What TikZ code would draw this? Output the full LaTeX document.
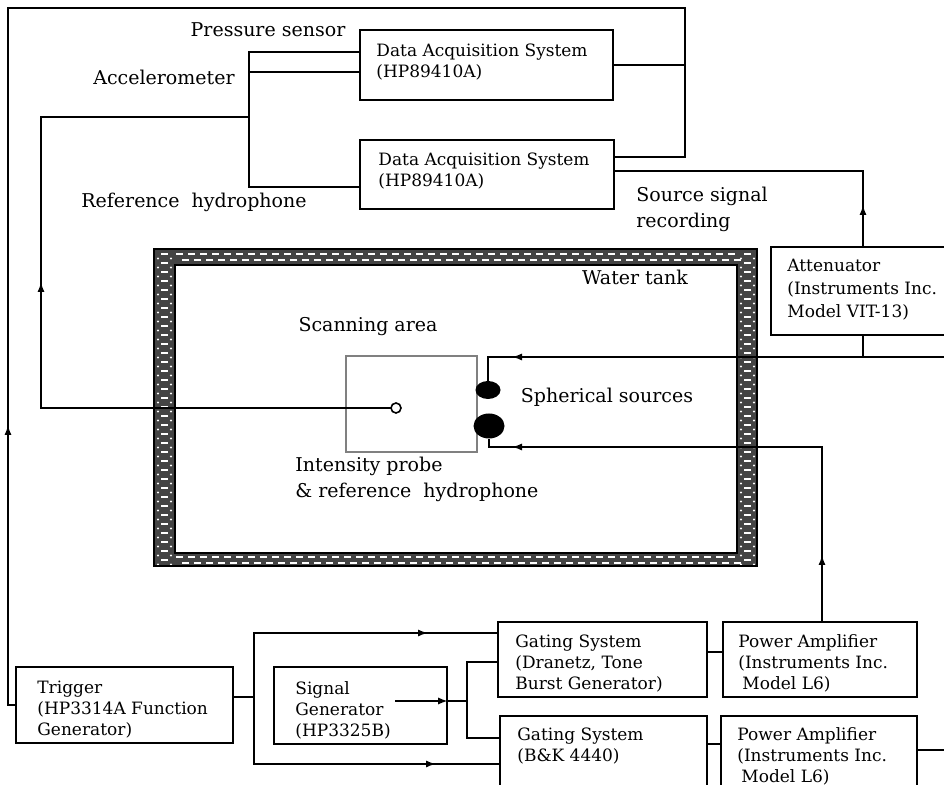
\documentclass[tikz,border=0pt]{standalone}
\usepackage{fontspec}
\setmainfont{DejaVu Serif}
\usetikzlibrary{fit,arrows.meta,shapes.geometric,positioning}
\definecolor{tankgray}{RGB}{68,68,68}
\begin{document}
\begin{tikzpicture}[
    x		= 0.5pt,
    y		= -0.5pt,
    wire/.style	= {line width=1.1pt},
    flow/.style	= {wire, -{Latex[length=5pt, width=3.6pt]}},
    unitbox/.style	= {draw, line width=1.1pt, inner sep=0pt},
    boxtext/.style	= {anchor=north west, inner sep=0pt, align=left, font=\fontsize{8.5}{10.5}\selectfont},
    tag/.style	= {inner sep=0pt, font=\fontsize{9.5}{13}\selectfont}
  ]
\useasboundingbox (0,0) rectangle (944,785);
\clip (0,0) rectangle (944,785);
% water tank wall
\fill[tankgray] (154,249) rectangle (757,566);
\fill[white] (175,265) rectangle (737,553);
\foreach \x in {176,188,...,730} {
  \draw[white, line width=0.7pt] (\x,254) -- ++(7,0) (\x+6,260) -- ++(7,0);
  \draw[white, line width=0.7pt] (\x,557) -- ++(7,0) (\x+6,563) -- ++(7,0);
}
\foreach \y in {254,263,...,562} {
  \draw[white, line width=0.7pt] (161,\y) -- (168,\y) (744,\y) -- (751,\y);
  \fill[white] (158,\y+4.5) circle (0.6pt) (171,\y+4.5) circle (0.6pt)
               (741,\y+4.5) circle (0.6pt) (754,\y+4.5) circle (0.6pt);
}
\draw[line width=0.6pt] (154,249) rectangle (757,566) (175,265) rectangle (737,553);
% scanning area
\node[draw=gray, line width=0.7pt, inner sep=0pt, fit={(346,356) (477,452)}] (scan) {};
% boxes
\node[unitbox, fit={(360,30) (613,100)}] (daq1) {};
\node[unitbox, fit={(360,140) (614,209)}] (daq2) {};
\node[unitbox, fit={(771,247) (970,335)}] (att) {};
\node[unitbox, fit={(16,667) (233,743)}] (trig) {};
\node[unitbox, fit={(274,667) (447,744)}] (sig) {};
\node[unitbox, fit={(498,622) (707,697)}] (gate1) {};
\node[unitbox, fit={(500,716) (707,800)}] (gate2) {};
\node[unitbox, fit={(723,622) (917,697)}] (amp1) {};
\node[unitbox, fit={(721,716) (917,800)}] (amp2) {};
% sources
\node[ellipse, fill=black, minimum width=12.5pt, minimum height=9pt, inner sep=0pt] (src1) at (488,390) {};
\node[ellipse, fill=black, minimum width=15.5pt, minimum height=12.5pt, inner sep=0pt] (src2) at (489,426) {};
% trigger loop
\draw[wire] (trig.west) -| (8,8) -| (685,157) -- (daq2.east |- 0,157);
\draw[wire] (daq1.east) -- (daq1.east -| 685,0);
\draw[flow] (8,705) -- (8,425);
% sensors
\draw[wire] (daq1.west |- 0,52) -| (249,187) -- (daq2.west |- 0,187);
\draw[wire] (249,72) -- (daq1.west |- 0,72);
\draw[wire] (396,408) -| (41,117) -- (249,117);
\draw[flow] (41,408) -- (41,282);
% source signal recording
\draw[wire] (daq2.east |- 0,171) -| (att.north -| 863,0);
\draw[flow] (att.north -| 863,0) -- (863,205);
\draw[wire] (att.south -| 863,0) -- (863,357);
% drive lines
\draw[wire] (944,357) -| (src1.north);
\draw[flow] (560,357) -- (512,357);
\draw[wire] (amp1.north -| 822,0) -- (822,447) -| (src2.south);
\draw[flow] (822,600) -- (822,555);
\draw[flow] (560,447) -- (512,447);
% probe
\node[circle, draw, fill=white, line width=0.8pt, minimum size=5pt, inner sep=0pt] (probe) at (396,408) {};
% trigger and gating
\draw[wire] (trig.east |- 0,697) -- (254,697);
\draw[wire] (gate1.west |- 0,633) -| (254,764) -- (gate2.west |- 0,764);
\draw[flow] (254,633) -- (428,633);
\draw[flow] (254,764) -- (436,764);
\draw[flow] (395,701) -- (sig.east |- 0,701);
\draw[wire] (sig.east |- 0,701) -- (467,701);
\draw[wire] (gate1.west |- 0,662) -| (467,738) -- (gate2.west |- 0,738);
\draw[wire] (gate1.east |- 0,652) -- (amp1.west |- 0,652);
\draw[wire] (gate2.east |- 0,744) -- (amp2.west |- 0,744);
\draw[wire] (amp2.east |- 0,750) -- (944,750);
% labels
\node[tag] (press) at (268,30) {Pressure sensor};
\node[tag] (accel) at (164,77) {Accelerometer};
\node[tag] (refhyd) at (194,202) {Reference\ \ hydrophone};
\node[tag, anchor=west, align=left] (srcrec) at (636,209) {Source signal\\recording};
\node[tag] (tank) at (635,277) {Water tank};
\node[tag] (scanlbl) at (368,327) {Scanning area};
\node[tag] (spher) at (607,397) {Spherical sources};
\node[tag, anchor=west, align=left] (probelbl) at (295,479) {Intensity probe\\\&~reference\ \ hydrophone};
% box texts
\node[boxtext] (daq1txt) at (376,43) {Data Acquisition System\\(HP89410A)};
\node[boxtext] (daq2txt) at (378,152) {Data Acquisition System\\(HP89410A)};
\node[boxtext, font=\fontsize{8.5}{11.5}\selectfont] (atttxt) at (787,259) {Attenuator\\(Instruments Inc.\\Model VIT-13)};
\node[boxtext] (trigtxt) at (37,681) {Trigger\\(HP3314A Function\\Generator)};
\node[boxtext] (sigtxt) at (295,681) {Signal\\Generator\\(HP3325B)};
\node[boxtext] (gate1txt) at (515,634) {Gating System\\(Dranetz, Tone\\Burst Generator)};
\node[boxtext] (gate2txt) at (517,727) {Gating System\\(B\&K 4440)};
\node[boxtext] (amp1txt) at (738,634) {Power Amplifier\\(Instruments Inc.\\\hspace{2pt}Model L6)};
\node[boxtext] (amp2txt) at (737,727) {Power Amplifier\\(Instruments Inc.\\\hspace{2pt}Model L6)};
\end{tikzpicture}
\end{document}
